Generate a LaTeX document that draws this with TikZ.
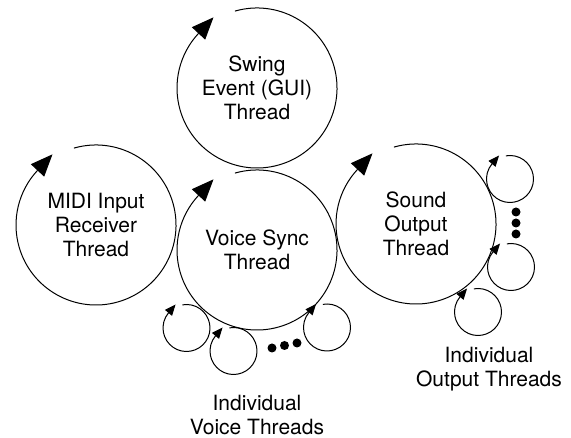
\documentclass[tikz,border=0pt]{standalone}
\usepackage{fontspec}
\setmainfont{TeX Gyre Heros}
\usetikzlibrary{arrows.meta}

\tikzset{
  thread/.style={circle,minimum size=160pt,inner sep=0pt,outer sep=0pt,align=center,font=\fontsize{21}{24}\selectfont},
  subthread/.style={circle,minimum size=47pt,inner sep=0pt,outer sep=0pt},
  bigloop/.style={line width=1pt,-{Triangle[length=22pt,width=18pt]}},
  smallloop/.style={line width=1pt,-{Triangle[length=11pt,width=9pt]}},
  dotmark/.style={circle,fill,minimum size=9pt,inner sep=0pt},
  caption/.style={align=center,font=\fontsize{21}{24}\selectfont}
}

\begin{document}
\begin{tikzpicture}[x=1pt,y=1pt]
      \useasboundingbox (0,0) rectangle (571,438);
      % main threads
      \node[thread] (midi) at (96,213) {MIDI Input\\Receiver\\Thread};
      \node[thread] (swing) at (257,350) {Swing\\Event (GUI)\\Thread};
      \node[thread] (voice) at (257,188) {Voice Sync\\Thread};
      \node[thread] (sound) at (416,214) {Sound\\Output\\Thread};
      \draw[bigloop] (midi.106) arc[start angle=106,end angle=-223,radius=80] -- ++(47:22);
      \draw[bigloop] (swing.106) arc[start angle=106,end angle=-223,radius=80] -- ++(47:22);
      \draw[bigloop] (voice.106) arc[start angle=106,end angle=-223,radius=80] -- ++(47:22);
      \draw[bigloop] (sound.106) arc[start angle=106,end angle=-223,radius=80] -- ++(47:22);
      % voice threads
      \node[subthread] (v1) at (186.5,110) {};
      \node[subthread] (v2) at (233.5,87) {};
      \node[subthread] (v3) at (327,110.5) {};
      \draw[smallloop] (v1.100) arc[start angle=100,end angle=-220,radius=23.5] -- ++(50:11);
      \draw[smallloop] (v2.100) arc[start angle=100,end angle=-220,radius=23.5] -- ++(50:11);
      \draw[smallloop] (v3.100) arc[start angle=100,end angle=-220,radius=23.5] -- ++(50:11);
      \node[dotmark] (vd1) at (272,90) {};
      \node[dotmark] (vd2) at (284.5,92.5) {};
      \node[dotmark] (vd3) at (297,95) {};
      \node[caption] (vcap) at (257,23) {Individual\\Voice Threads};
      % output threads
      \node[subthread] (o1) at (510,259) {};
      \node[subthread] (o2) at (511,171) {};
      \node[subthread] (o3) at (478,126) {};
      \draw[smallloop] (o1.100) arc[start angle=100,end angle=-220,radius=23.5] -- ++(50:11);
      \draw[smallloop] (o2.100) arc[start angle=100,end angle=-220,radius=23.5] -- ++(50:11);
      \draw[smallloop] (o3.100) arc[start angle=100,end angle=-220,radius=23.5] -- ++(50:11);
      \node[dotmark] (od1) at (516,226) {};
      \node[dotmark] (od2) at (516,215) {};
      \node[dotmark] (od3) at (516,204) {};
      \node[caption] (ocap) at (489,69) {Individual\\Output Threads};
    \end{tikzpicture}
\end{document}
